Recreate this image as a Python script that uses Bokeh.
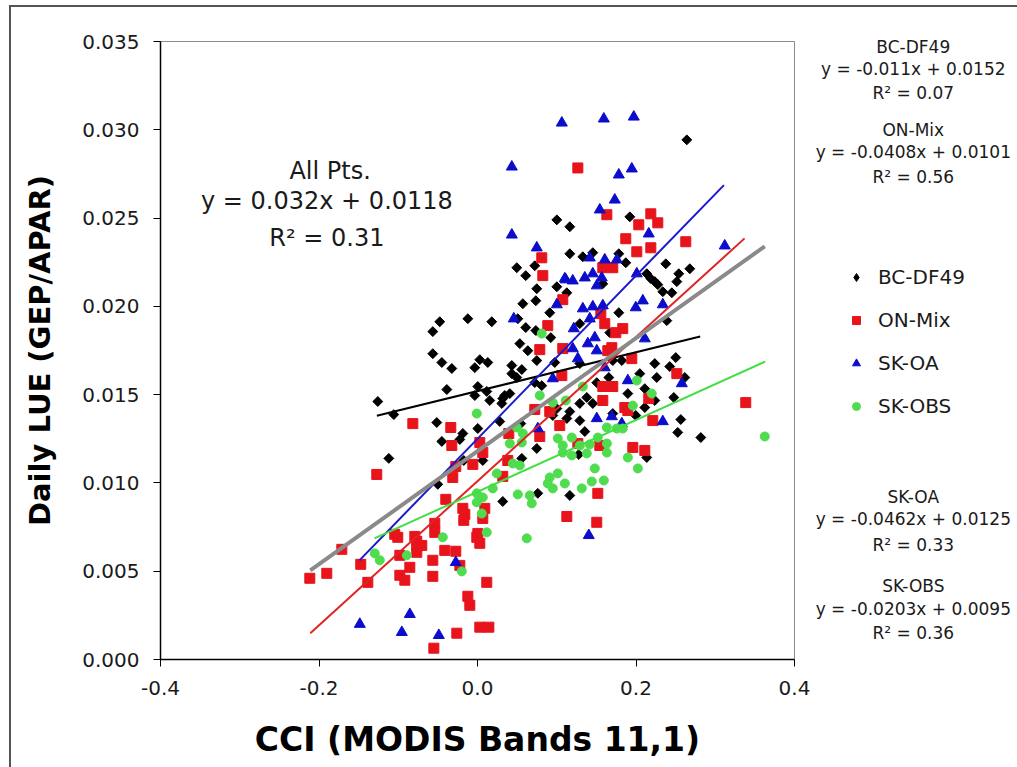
import math
from bokeh.plotting import figure
from bokeh.layouts import row
from bokeh.models import (Legend, LegendItem, Label, FixedTicker,
                          PrintfTickFormatter, Range1d)
from bokeh.embed import file_html
from bokeh.resources import INLINE

# ---------------- data ----------------
x_ticks = [-0.4, -0.2, 0.0, 0.2, 0.4]
y_ticks = [0.0, 0.005, 0.010, 0.015, 0.020, 0.025, 0.030, 0.035]

series_names = ["BC-DF49", "ON-Mix", "SK-OA", "SK-OBS"]

bc_x = [0.2641, 0.1001, 0.1165, 0.1922, 0.1165, 0.1329, 0.1455, 0.1783, 0.1871, 0.0496,
        0.0609, 0.0723, 0.1001, 0.0748, 0.0572, 0.0736, 0.0912, 0.0509, 0.0609, 0.0736,
        0.0925, 0.0534, 0.0635, 0.0748, 0.0975, 0.1291, 0.0433, 0.2376, 0.254, 0.2679,
        0.2515, 0.2136, 0.2187, 0.2237, 0.2275, 0.2338, 0.2452, 0.1581, 0.1127, 0.1783,
        0.2389, 0.1669, 0.1821, 0.2502, 0.2237, 0.2426, 0.2262, 0.2616, 0.2048, 0.2111,
        0.2477, 0.1897, 0.1707, 0.1657, 0.1505, 0.1291, 0.1379, 0.1291, 0.1455, 0.2237,
        0.2111, 0.2565, 0.2527, 0.2818, 0.2136, 0.1997, 0.1165, 0.0761, 0.0319, 0.1354,
        0.1278, 0.0748, 0.1707, 0.1127, 0.1291, 0.095, 0.1165, 0.0155, 0.0319, 0.0281,
        0.0004, 0.0559, 0.0546, 0.1001, -0.0476, -0.0564, -0.0122, 0.018, -0.0564, -0.045,
        -0.0324, -0.0034, 0.0029, 0.013, 0.0559, 0.0433, 0.0496, 0.0723, 0.0811, -0.0387,
        0.0004, -0.0034, 0.0117,
        0.0344, 0.0408, 0.0307, -0.1258, -0.1056, -0.0514, -0.0185, -0.0223, -0.045, -0.1119,
        0.0067, -0.0501, -0.0173]
bc_y = [0.02943, 0.0249, 0.02451, 0.02507, 0.02298, 0.02281, 0.02304, 0.02298, 0.02247, 0.02219,
        0.02174, 0.0223, 0.02111, 0.021, 0.02015, 0.02032, 0.01964, 0.0193, 0.0188, 0.01863,
        0.01823, 0.01789, 0.01749, 0.01693, 0.01682, 0.01902, 0.01665, 0.02241, 0.02185, 0.02213,
        0.0214, 0.02185, 0.02157, 0.0214, 0.02123, 0.02083, 0.02077, 0.02128, 0.02077, 0.01964,
        0.01919, 0.01851, 0.01693, 0.0171, 0.01676, 0.01659, 0.01597, 0.01597, 0.01619, 0.01534,
        0.01484, 0.01506, 0.01693, 0.01597, 0.01568, 0.01676, 0.01484, 0.0145, 0.0145, 0.01467,
        0.01427, 0.01359, 0.01286, 0.01257, 0.01144, 0.01382, 0.00929, 0.00941, 0.00895, 0.01291,
        0.01161, 0.01195, 0.01393, 0.01365, 0.01353, 0.01382, 0.01404, 0.01467, 0.01478, 0.01348,
        0.01308, 0.01139, 0.01336, 0.01421, 0.01913, 0.01857, 0.0193, 0.01913, 0.01732, 0.01682,
        0.01648, 0.01653, 0.01698, 0.01682, 0.01642, 0.01619, 0.01597, 0.01568, 0.01551, 0.01529,
        0.01546, 0.01495, 0.01518,
        0.01495, 0.01506, 0.0145, 0.01461, 0.01387, 0.01342, 0.0128, 0.01246, 0.01235, 0.01139,
        0.01127, 0.00992, 0.01127]

on_x = [0.1266, 0.1632, 0.2187, 0.2035, 0.2275, 0.1871, 0.201, 0.2187, 0.2628, 0.0811,
        0.0824, 0.1581, 0.1707, 0.1076, 0.0887, 0.1556, 0.1606, 0.1745, 0.1833, 0.0786,
        0.1076, 0.1695, 0.1947, 0.1644, 0.2515, 0.1581, 0.1707, 0.1581, 0.1859, 0.2161,
        0.1064, 0.3385, 0.2212, 0.196, 0.2111, 0.1518, 0.1127, 0.1505, 0.0912, 0.0723,
        0.1038, 0.0786, 0.0395, 0.1897, 0.1543, 0.1266, 0.0319, 0.0382, 0.0029, 0.0067,
        -0.0059, -0.0816, -0.0337, -0.0324, -0.1271,
        -0.0274, -0.0312, -0.04, -0.0185,
        -0.016, -0.0173, -0.0539, -0.0539, 0.0004, 0.0092, 0.0067, -0.0009, 0.0029, -0.1044,
        -0.1006, -0.0791, -0.0766, -0.0766, -0.0703, -0.0766, -0.0413, -0.0274, -0.0564, -0.098,
        -0.0854, -0.098, -0.0917, -0.0564, -0.1902, -0.2116, -0.1712, -0.1473, -0.1384, -0.0223,
        0.0117, -0.0122, -0.0097, 0.0029, 0.0143, -0.0261, -0.0551]
on_y = [0.02784, 0.02519, 0.02524, 0.02462, 0.02473, 0.02383, 0.02309, 0.02332, 0.02366, 0.02275,
        0.02174, 0.02219, 0.02219, 0.02038, 0.01891, 0.01959, 0.01902, 0.01851, 0.01874, 0.01755,
        0.01761, 0.01766, 0.01704, 0.01749, 0.01619, 0.01546, 0.01546, 0.01467, 0.01427, 0.01478,
        0.01608, 0.01455, 0.01353, 0.01201, 0.01184, 0.00941, 0.0081, 0.00777, 0.01404, 0.01416,
        0.01325, 0.01263, 0.0128, 0.0141, 0.01212, 0.01223, 0.01037, 0.01127, 0.01229, 0.01172,
        0.01105, 0.01336, 0.01314, 0.01212, 0.01048,
        0.01093, 0.01031, 0.00907, 0.00856,
        0.00822, 0.00788, 0.00771, 0.0072, 0.00714, 0.00856, 0.00799, 0.00692, 0.00658, 0.00709,
        0.00692, 0.00697, 0.00669, 0.00641, 0.00646, 0.00607, 0.00618, 0.00613, 0.00562, 0.0059,
        0.00522, 0.00477, 0.00449, 0.00471, 0.00488, 0.0046, 0.00624, 0.00539, 0.00437, 0.00533,
        0.00437, 0.00358, 0.00307, 0.00183, 0.00183, 0.00149, 0.00064]

oa_x = [0.1064, 0.1594, 0.1972, 0.0433, 0.1783, 0.1947, 0.1732, 0.1543, 0.2161, 0.0433,
        0.0748, 0.1114, 0.1001, 0.0458, 0.095, 0.1417, 0.1606, 0.1758, 0.1102, 0.1202,
        0.1354, 0.1455, 0.1568, 0.1505, 0.201, 0.1329, 0.1455, 0.1581, 0.1997, 0.2086,
        0.2338, 0.1417, 0.1215, 0.148, 0.1392, 0.2111, 0.1202, 0.1505, 0.1266, 0.1897,
        0.2578, 0.1606, 0.312, 0.2338, 0.1505, 0.1695, 0.1821, 0.0761, 0.1404, -0.0274,
        -0.1485, -0.0854, -0.0955, -0.0488]
oa_y = [0.03039, 0.03062, 0.03073, 0.0279, 0.02745, 0.02779, 0.02603, 0.02547, 0.02411, 0.02405,
        0.02332, 0.02151, 0.0201, 0.0193, 0.01591, 0.02275, 0.02264, 0.02264, 0.02157, 0.02145,
        0.02162, 0.02185, 0.02162, 0.02117, 0.02185, 0.01987, 0.01998, 0.02004, 0.01993, 0.02032,
        0.0201, 0.0193, 0.01874, 0.01823, 0.01789, 0.01817, 0.01761, 0.01749, 0.01704, 0.0158,
        0.01563, 0.01653, 0.02343, 0.01348, 0.01365, 0.01376, 0.01336, 0.01308, 0.00703, 0.0055,
        0.002, 0.00256, 0.00154, 0.00137]

obs_x = [-0.0009, 0.0811, 0.0786, 0.095, 0.196, 0.2199, 0.201, 0.1329, 0.1114, 0.0496,
         0.0572, 0.0559, 0.0408, 0.1013, 0.119, 0.1518, 0.1632, 0.1758, 0.1833, 0.1632,
         0.1076, 0.1291, 0.1417, 0.1076, 0.119, 0.1379, 0.1632, 0.1897, 0.2023, 0.148,
         0.0445, 0.0534, 0.0244, 0.0912, 0.1013, 0.0887, 0.095, 0.1102, 0.1316, 0.1442,
         0.1594, 0.0193, 0.0509, 0.066, 0.0685, -0.0009, 0.0067, -0.0009, 0.0054, 0.0117,
         0.0622, 0.3625, -0.0438, -0.1296, -0.1233, -0.0892, -0.0198]
obs_y = [0.01393, 0.01846, 0.01495, 0.01455, 0.01438, 0.01506, 0.0158, 0.01546, 0.01467, 0.01314,
         0.0128, 0.01229, 0.01223, 0.01252, 0.01257, 0.01257, 0.01314, 0.01308, 0.01308, 0.01223,
         0.01212, 0.01212, 0.01218, 0.01172, 0.01156, 0.01167, 0.01172, 0.01144, 0.01082, 0.01082,
         0.0111, 0.01099, 0.01054, 0.01031, 0.01054, 0.00997, 0.00969, 0.00997, 0.00969, 0.01008,
         0.01014, 0.00969, 0.00935, 0.00929, 0.00884, 0.00941, 0.00918, 0.0089, 0.00827, 0.0072,
         0.00686, 0.01263, 0.00692, 0.00601, 0.00562, 0.0059, 0.00499]

# linear fits (name, slope, intercept, x-range, R^2)
fit_names = ["BC-DF49", "ON-Mix", "SK-OA", "SK-OBS", "All Pts."]
fit_slopes = [0.011, 0.0408, 0.0462, 0.0203, 0.032]
fit_intercepts = [0.0152, 0.0101, 0.0125, 0.0095, 0.0118]
fit_x_start = [-0.127, -0.211, -0.149, -0.13, -0.211]
fit_x_end = [0.281, 0.337, 0.311, 0.363, 0.3625]
fit_r2 = [0.07, 0.56, 0.33, 0.36, 0.31]
fit_eq_text = ["y = -0.011x + 0.0152", "y = -0.0408x + 0.0101", "y = -0.0462x + 0.0125",
               "y = -0.0203x + 0.0095", "y = 0.032x + 0.0118"]

# ---------------- style ----------------
FONT = "DejaVu Sans"
col_bc, col_on, col_oa, col_obs = "#000000", "#e8141b", "#0c0ccc", "#4fdc4f"
line_cols = ["#000000", "#e02424", "#1a1acc", "#44dd44", "#8a8a8a"]
line_widths = [2, 2, 2, 2, 4]
marker_kw = [dict(marker="square", angle=math.pi / 4, size=7, fill_color=col_bc, line_color=col_bc),
             dict(marker="square", size=10, fill_color=col_on, line_color=col_on),
             dict(marker="triangle", size=11, fill_color=col_oa, line_color=col_oa),
             dict(marker="circle", size=9, fill_color=col_obs, line_color=col_obs)]
# legend swatches (the legend does not rotate glyphs, so the diamond is drawn directly)
legend_kw = [dict(marker="diamond", fill_color=col_bc, line_color=col_bc),
             marker_kw[1], marker_kw[2], marker_kw[3]]
series_xy = [(bc_x, bc_y), (on_x, on_y), (oa_x, oa_y), (obs_x, obs_y)]

# ---------------- main chart ----------------
p = figure(width=803, height=760, output_backend="svg", toolbar_location=None,
           x_range=Range1d(-0.4, 0.4), y_range=Range1d(0.0, 0.035),
           min_border_left=149, min_border_right=20, min_border_top=34, min_border_bottom=108,
           background_fill_color="white", border_fill_color="white")

p.xgrid.visible = False
p.ygrid.visible = False
p.outline_line_color = "#8c8c8c"
p.outline_line_width = 1

p.xaxis.ticker = FixedTicker(ticks=x_ticks, minor_ticks=[])
p.yaxis.ticker = FixedTicker(ticks=y_ticks, minor_ticks=[])
p.xaxis.formatter = PrintfTickFormatter(format="%.1f")
p.yaxis.formatter = PrintfTickFormatter(format="%.3f")
for ax in (p.xaxis, p.yaxis):
    ax.axis_line_color = "black"
    ax.axis_line_width = 1.5
    ax.major_tick_in = 0
    ax.major_tick_out = 7
    ax.major_tick_line_color = "black"
    ax.minor_tick_out = 0
    ax.minor_tick_in = 0
    ax.major_label_text_font = FONT
    ax.major_label_text_font_size = "20px"
    ax.major_label_text_color = "#1a1a1a"
    ax.axis_label_text_font = FONT
    ax.axis_label_text_font_style = "bold"
    ax.axis_label_text_color = "black"

p.yaxis.axis_label = "Daily LUE (GEP/APAR)"
p.yaxis.axis_label_text_font_size = "29px"
p.yaxis.major_label_standoff = 14
p.yaxis.axis_label_standoff = 22
p.xaxis.axis_label = "CCI (MODIS Bands 11,1)"
p.xaxis.axis_label_text_font_size = "33px"
p.xaxis.major_label_standoff = 14
p.xaxis.axis_label_standoff = 22

for (sx, sy), kw in zip(series_xy, marker_kw):
    p.scatter(sx, sy, **kw)

for k in range(len(fit_names)):
    xs = [fit_x_start[k], fit_x_end[k]]
    ys = [fit_slopes[k] * v + fit_intercepts[k] for v in xs]
    p.line(xs, ys, line_color=line_cols[k], line_width=line_widths[k])


def add_text(fig, x, y, text, size):
    fig.add_layout(Label(x=x, y=y, text=text, text_font=FONT, text_font_size=size,
                         text_align="center", text_baseline="middle", text_color="#1a1a1a"))


add_text(p, -0.186, 0.02768, fit_names[4], "24px")
add_text(p, -0.190, 0.02598, fit_eq_text[4], "24px")
add_text(p, -0.190, 0.02388, "R\u00b2 = %.2f" % fit_r2[4], "24px")

# ---------------- right-hand panel (legend + per-site fits) ----------------
# same scales as the main chart, continued to the right of it (full-height frame)
side = figure(width=203, height=760, output_backend="svg", toolbar_location=None,
              x_range=Range1d(0.4243, 0.6805), y_range=Range1d(-0.00609, 0.03689),
              x_axis_type=None, y_axis_type=None,
              min_border_left=0, min_border_right=0, min_border_top=0, min_border_bottom=0,
              background_fill_color="white", border_fill_color="white")
side.xgrid.visible = False
side.ygrid.visible = False
side.outline_line_color = None
# do not snap this panel's frame to the main chart's frame
for fig in (p, side):
    if hasattr(fig, "frame_align"):
        fig.frame_align = False

# legend swatches: the same series, kept hidden in this panel (only their legend glyphs show)
legend_renderers = [side.scatter(sx, sy, visible=False, **kw)
                    for (sx, sy), kw in zip(series_xy, legend_kw)]
legend = Legend(items=[LegendItem(label=series_names[i], renderers=[legend_renderers[i]])
                       for i in range(4)],
                location=(32, 349), orientation="vertical",
                label_text_font=FONT, label_text_font_size="20px", label_text_color="#1a1a1a",
                glyph_width=20, glyph_height=20, label_standoff=12, spacing=19,
                padding=0, margin=0, border_line_color=None, background_fill_alpha=0,
                label_height=20, click_policy="none")
side.add_layout(legend, "center")

right_blocks = [(0, [0.03467, 0.03344, 0.03203]),
                (1, [0.02994, 0.02870, 0.02729]),
                (2, [0.00918, 0.00794, 0.00652]),
                (3, [0.00415, 0.00290, 0.00149])]
for k, ys in right_blocks:
    add_text(side, 0.549, ys[0], fit_names[k], "17px")
    add_text(side, 0.549, ys[1], fit_eq_text[k], "17px")
    add_text(side, 0.549, ys[2], "R\u00b2 = %.2f" % fit_r2[k], "17px")

layout = row(p, side, spacing=0)
layout.styles = {"margin-left": "9px", "margin-top": "5px",
                 "border-left": "2px solid #555555", "border-top": "2px solid #555555"}

open("out.html", "w").write(file_html(layout, INLINE))
